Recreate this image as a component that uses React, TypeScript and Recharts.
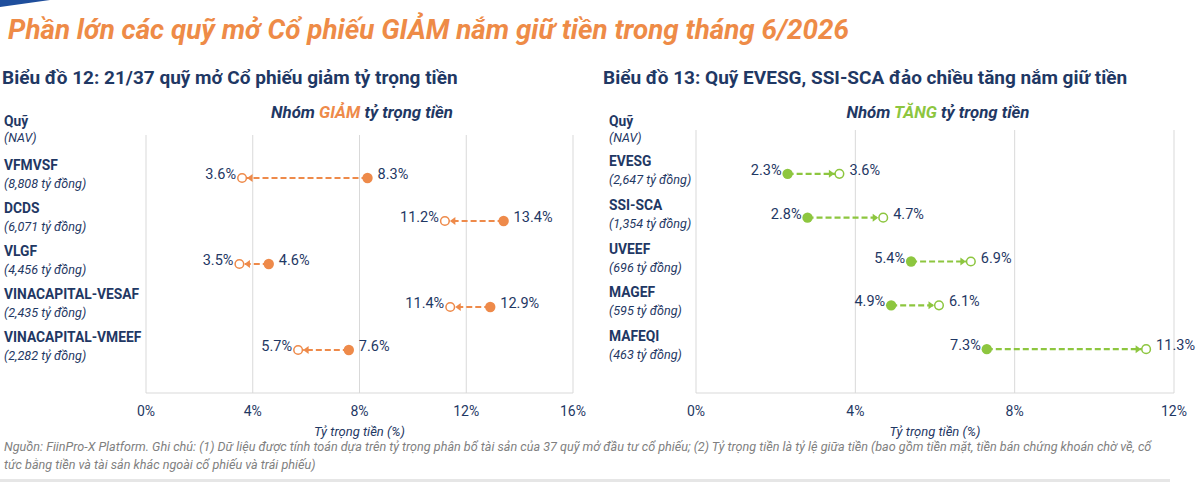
import { ScatterChart, Scatter, XAxis, YAxis, CartesianGrid } from "recharts";

const NAVY = "#1F3864";
const ORANGE = "#EE8A4A";
const GREEN = "#8DC63F";
const GRID = "#D9D9D9";
const FONT = "Roboto, 'Noto Sans', sans-serif";

// Biểu đồ 12: nhóm giảm tỷ trọng tiền
const downFunds = ["VFMVSF", "DCDS", "VLGF", "VINACAPITAL-VESAF", "VINACAPITAL-VMEEF"];
const downNav = ["8,808", "6,071", "4,456", "2,435", "2,282"];
const downBefore = [8.3, 13.4, 4.6, 12.9, 7.6];
const downAfter = [3.6, 11.2, 3.5, 11.4, 5.7];
const downTicks = [0, 4, 8, 12, 16];

// Biểu đồ 13: nhóm tăng tỷ trọng tiền
const upFunds = ["EVESG", "SSI-SCA", "UVEEF", "MAGEF", "MAFEQI"];
const upNav = ["2,647", "1,354", "696", "595", "463"];
const upBefore = [2.3, 2.8, 5.4, 4.9, 7.3];
const upAfter = [3.6, 4.7, 6.9, 6.1, 11.3];
const upTicks = [0, 4, 8, 12];

type Row = { y: number; name: string; nav: string; before: number; after: number };

function buildRows(funds: string[], nav: string[], before: number[], after: number[]): Row[] {
  return funds.map((name, i) => ({
    y: funds.length - i,
    name,
    nav: nav[i],
    before: before[i],
    after: after[i],
  }));
}

const downRows = buildRows(downFunds, downNav, downBefore, downAfter);
const upRows = buildRows(upFunds, upNav, upBefore, upAfter);

const noDot = () => <g />;

function labelText(cx: number, cy: number, side: number, value: number) {
  return (
    <text
      x={side > 0 ? cx + 10 : cx - 6}
      y={cy - 4}
      dy="0.35em"
      textAnchor={side > 0 ? "start" : "end"}
      fill={NAVY}
      fontSize={14.5}
    >
      {value}%
    </text>
  );
}

function makeFilled(color: string) {
  return (props: any) => {
    const { cx, cy, payload } = props;
    const dir = payload.after < payload.before ? -1 : 1;
    return (
      <g>
        <circle cx={cx} cy={cy} r={5.2} fill={color} />
        {labelText(cx, cy, -dir, payload.before)}
      </g>
    );
  };
}

function makeHollow(color: string) {
  return (props: any) => {
    const { cx, cy, payload } = props;
    const dir = payload.after < payload.before ? -1 : 1;
    const tip = cx - dir * 5;
    const base = cx - dir * 10.5;
    return (
      <g>
        <polygon points={`${tip},${cy} ${base},${cy - 4} ${base},${cy + 4}`} fill={color} />
        <circle cx={cx} cy={cy} r={4.3} fill="#fff" stroke={color} strokeWidth={1.5} />
        {labelText(cx, cy, dir, payload.after)}
      </g>
    );
  };
}

function makeTick(rows: Row[], labelX: number) {
  return (props: any) => {
    const { y, payload } = props;
    const row = rows.find((r) => r.y === payload.value);
    if (!row) return <g />;
    return (
      <g>
        <text x={labelX} y={y - 8} fill={NAVY} fontSize={13.8} fontWeight={700}>
          {row.name}
        </text>
        <text x={labelX} y={y + 10} fill={NAVY} fontSize={12.6} fontStyle="italic">
          ({row.nav} tỷ đồng)
        </text>
      </g>
    );
  };
}

type PanelProps = {
  rows: Row[];
  ticks: number[];
  color: string;
  yWidth: number;
  labelX: number;
  top: number;
  right: number;
};

function Panel({ rows, ticks, color, yWidth, labelX, top, right }: PanelProps) {
  const filled = rows.map((r) => ({ x: r.before, ...r }));
  const hollow = rows.map((r) => ({ x: r.after, ...r }));
  return (
    <ScatterChart width={600} height={345} margin={{ top, right, bottom: 0, left: 0 }}>
      <CartesianGrid horizontal={false} stroke={GRID} />
      <XAxis
        type="number"
        dataKey="x"
        domain={[ticks[0], ticks[ticks.length - 1]]}
        ticks={ticks}
        tickFormatter={(v) => `${v}%`}
        axisLine={{ stroke: GRID }}
        tickLine={false}
        tick={{ fill: NAVY, fontSize: 14 }}
        tickMargin={7}
        height={52}
        label={{
          value: "Tỷ trọng tiền (%)",
          position: "insideBottom",
          offset: 9,
          fill: NAVY,
          fontSize: 13,
          fontStyle: "italic",
        }}
      />
      <YAxis
        type="number"
        dataKey="y"
        domain={[0, rows.length + 1]}
        ticks={rows.map((r) => r.y)}
        width={yWidth}
        axisLine={false}
        tickLine={false}
        tick={makeTick(rows, labelX)}
      />
      {rows.map((r) => (
        <Scatter
          key={r.name}
          data={[
            { x: r.before, y: r.y },
            { x: r.after, y: r.y },
          ]}
          line={{ stroke: color, strokeWidth: 2.2, strokeDasharray: "6 3" }}
          shape={noDot}
          isAnimationActive={false}
        />
      ))}
      <Scatter data={filled} shape={makeFilled(color)} isAnimationActive={false} />
      <Scatter data={hollow} shape={makeHollow(color)} isAnimationActive={false} />
    </ScatterChart>
  );
}

const abs = (left: number, top: number, extra: React.CSSProperties = {}): React.CSSProperties => ({
  position: "absolute",
  left,
  top,
  whiteSpace: "nowrap",
  ...extra,
});

export default function App() {
  return (
    <div
      style={{
        position: "absolute",
        left: 0,
        top: 0,
        width: 1200,
        height: 482,
        background: "#fff",
        fontFamily: FONT,
        color: NAVY,
        overflow: "hidden",
      }}
    >
      <svg width={60} height={10} style={{ position: "absolute", left: 0, top: 0 }}>
        <polygon points="0,0 50,0 0,7" fill="#1F4E9C" />
      </svg>

      <div style={abs(8, 14, { fontSize: 27.8, lineHeight: "32px", fontWeight: 700, fontStyle: "italic", color: "#EE8B47" })}>
        Phần lớn các quỹ mở Cổ phiếu GIẢM nắm giữ tiền trong tháng 6/2026
      </div>

      <div style={abs(2, 66, { fontSize: 19, lineHeight: "24px", fontWeight: 700 })}>
        Biểu đồ 12: 21/37 quỹ mở Cổ phiếu giảm tỷ trọng tiền
      </div>
      <div style={abs(603, 66, { fontSize: 19, lineHeight: "24px", fontWeight: 700 })}>
        Biểu đồ 13: Quỹ EVESG, SSI-SCA đảo chiều tăng nắm giữ tiền
      </div>

      <div style={abs(162, 102, { width: 400, textAlign: "center", fontSize: 16.8, lineHeight: "20px", fontWeight: 700, fontStyle: "italic" })}>
        Nhóm <span style={{ color: ORANGE }}>GIẢM</span> tỷ trọng tiền
      </div>
      <div style={abs(738, 102, { width: 400, textAlign: "center", fontSize: 16.8, lineHeight: "20px", fontWeight: 700, fontStyle: "italic" })}>
        Nhóm <span style={{ color: GREEN }}>TĂNG</span> tỷ trọng tiền
      </div>

      {[4, 609].map((x) => (
        <div key={x}>
          <div style={abs(x, 113, { fontSize: 13.8, lineHeight: "17px", fontWeight: 700 })}>Quỹ</div>
          <div style={abs(x, 129, { fontSize: 12.6, lineHeight: "17px", fontStyle: "italic" })}>(NAV)</div>
        </div>
      ))}

      <div style={abs(0, 100)}>
        <Panel rows={downRows} ticks={downTicks} color={ORANGE} yWidth={146} labelX={4} top={35} right={27} />
      </div>
      <div style={abs(600, 100)}>
        <Panel rows={upRows} ticks={upTicks} color={GREEN} yWidth={96} labelX={9} top={30} right={26} />
      </div>

      <div style={abs(4, 438, { fontSize: 12.6, lineHeight: "18px", fontStyle: "italic", color: "#7F7F7F" })}>
        Nguồn: FiinPro-X Platform. Ghi chú: (1) Dữ liệu được tính toán dựa trên tỷ trọng phân bổ tài sản của 37 quỹ mở đầu tư cổ phiếu; (2) Tỷ trọng tiền là tỷ lệ giữa tiền (bao gồm tiền mặt, tiền bán chứng khoán chờ về, cổ
        <br />
        tức bằng tiền và tài sản khác ngoài cổ phiếu và trái phiếu)
      </div>

      <div style={abs(0, 479, { width: 1170, height: 3, background: "#E6E6E6" })} />
    </div>
  );
}
